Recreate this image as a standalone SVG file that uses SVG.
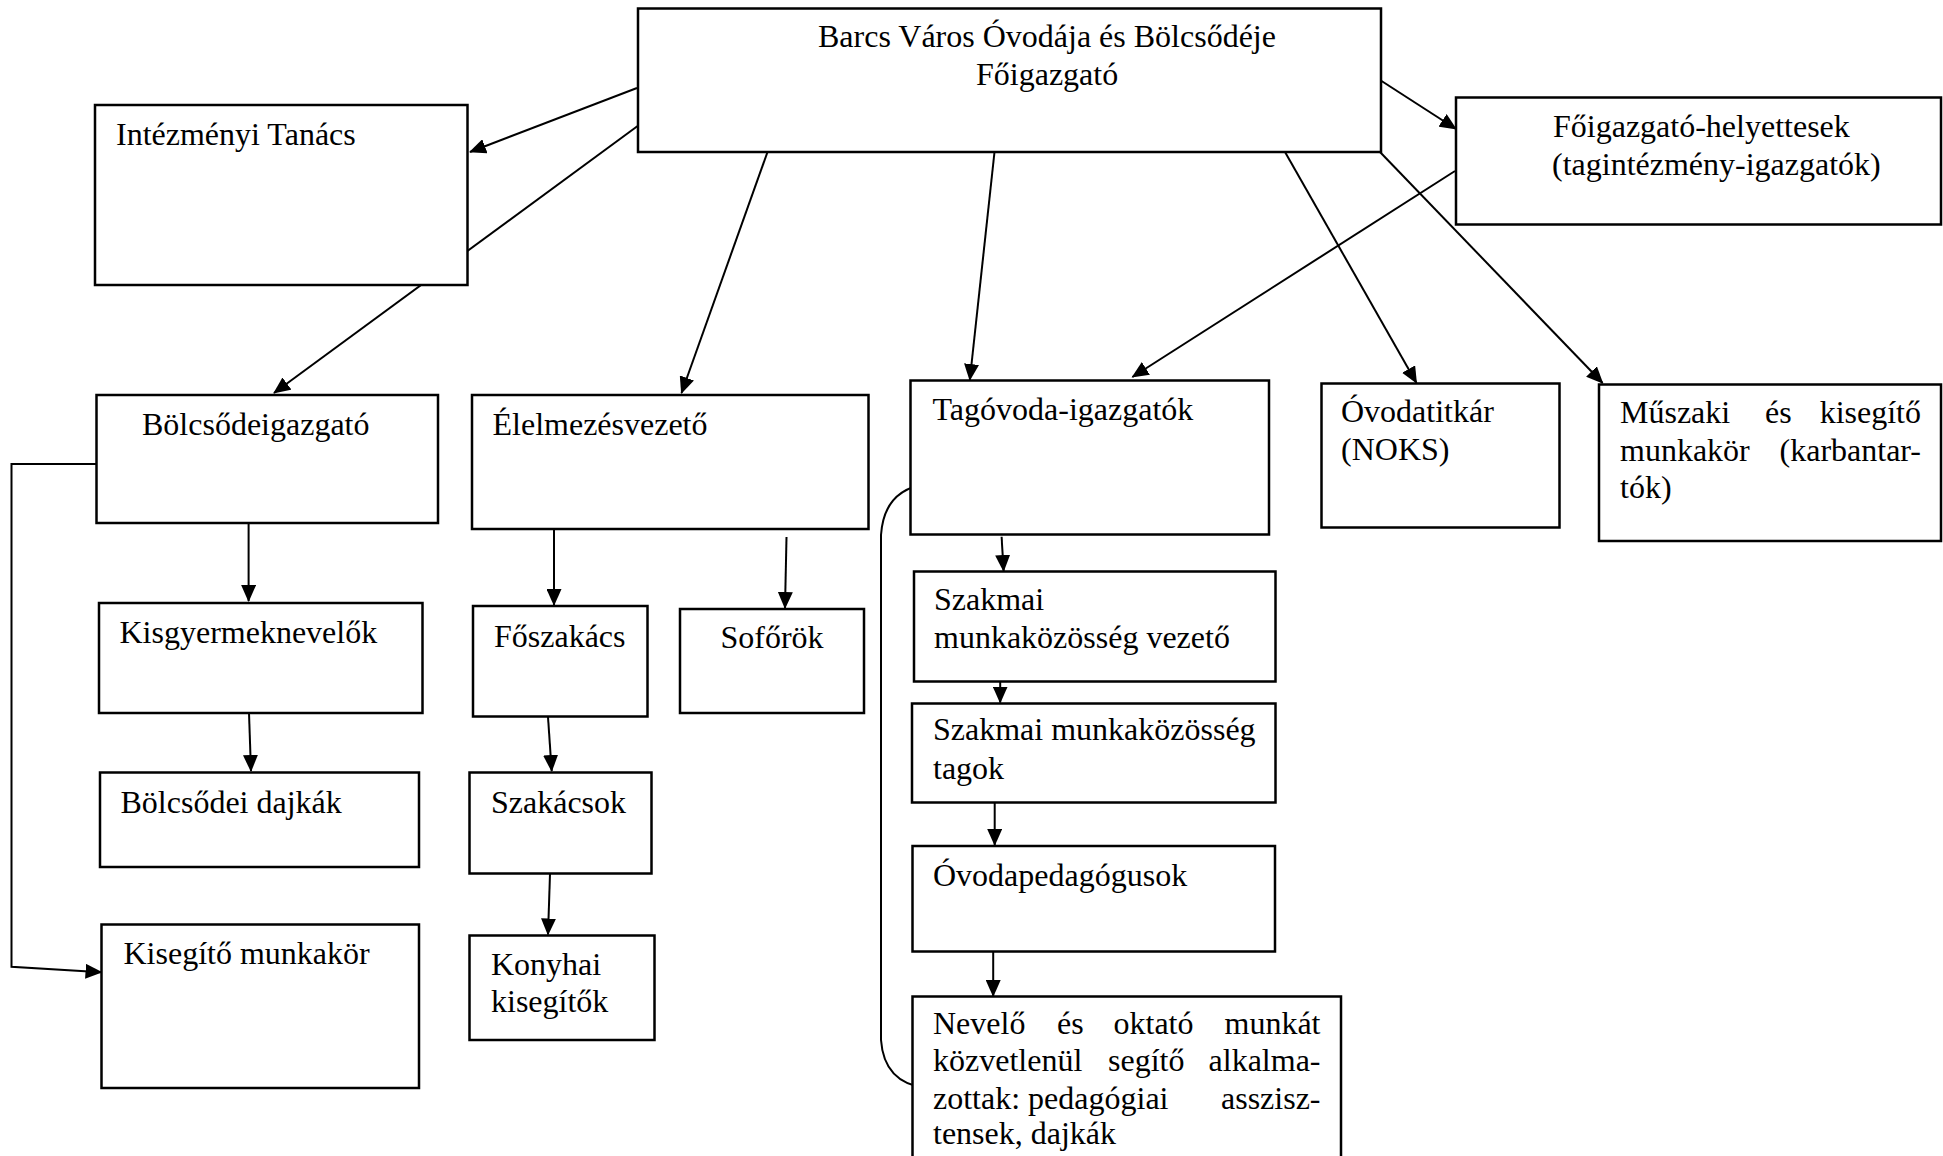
<svg xmlns="http://www.w3.org/2000/svg" width="1943" height="1156" viewBox="0 0 1943 1156">
<defs>
<style>
.box{fill:#fff;stroke:#000;stroke-width:2.5}
.t{font-family:"Liberation Serif","Times New Roman",serif;font-size:32px;fill:#000}
.e{text-anchor:end}
.c{fill:none;stroke:#000;stroke-width:2}
.a{marker-end:url(#arr)}
</style>
<marker id="arr" markerUnits="userSpaceOnUse" markerWidth="18" markerHeight="15" refX="16" refY="7.5" orient="auto">
<path d="M0,0 L17,7.5 L0,15 z" fill="#000"/>
</marker>
</defs>
<rect width="1943" height="1156" fill="#fff"/>
<g id="connectors">
<line class="c a" x1="637" y1="88" x2="470" y2="152"/>
<line class="c a" x1="639" y1="125" x2="274" y2="393"/>
<line class="c a" x1="767.5" y1="152" x2="681.5" y2="393"/>
<line class="c a" x1="994.5" y1="152" x2="969.8" y2="380"/>
<line class="c a" x1="1380" y1="80" x2="1456" y2="129"/>
<line class="c a" x1="1455" y1="171" x2="1132.4" y2="377"/>
<line class="c a" x1="1285" y1="152" x2="1416.5" y2="383"/>
<line class="c a" x1="1380" y1="152" x2="1602.6" y2="383"/>
<line class="c a" x1="248.6" y1="523" x2="248.6" y2="601"/>
<line class="c a" x1="249" y1="713" x2="251" y2="771"/>
<line class="c a" x1="554" y1="529" x2="554" y2="605"/>
<line class="c a" x1="786.5" y1="537" x2="785" y2="608"/>
<line class="c a" x1="548" y1="717" x2="551.7" y2="771"/>
<line class="c a" x1="550" y1="874" x2="548" y2="934.5"/>
<line class="c a" x1="1001.6" y1="536.7" x2="1003.6" y2="571"/>
<line class="c a" x1="1000.2" y1="656.7" x2="1000.2" y2="702.5"/>
<line class="c a" x1="994.7" y1="802.7" x2="994.7" y2="845"/>
<line class="c a" x1="993.2" y1="951.7" x2="993.2" y2="996"/>
<polyline class="c a" points="96,464 11.5,464 11.5,966.7 101.5,972.3"/>
<path class="c" d="M926,484 Q884,490 881,535 L881,1040 Q884,1083 926,1088"/>
</g>
<g id="n-main">
<rect class="box" x="638" y="8.5" width="743" height="143.5"/>
<text class="t" x="818" y="47">Barcs Város Óvodája és Bölcsődéje</text>
<text class="t" x="976" y="85">Főigazgató</text>
</g>
<g id="n-intezmenyi">
<rect class="box" x="95" y="105" width="372.5" height="180"/>
<text class="t" x="116" y="145">Intézményi Tanács</text>
</g>
<g id="n-helyettesek">
<rect class="box" x="1456" y="97.5" width="485" height="127"/>
<text class="t" x="1553" y="137">Főigazgató-helyettesek</text>
<text class="t" x="1552" y="175">(tagintézmény-igazgatók)</text>
</g>
<g id="n-bolcsodeigazgato">
<rect class="box" x="96.5" y="395" width="341.5" height="128"/>
<text class="t" x="142" y="435">Bölcsődeigazgató</text>
</g>
<g id="n-elelmezes">
<rect class="box" x="472" y="395" width="396.5" height="134"/>
<text class="t" x="492.5" y="435">Élelmezésvezető</text>
</g>
<g id="n-tagovoda">
<rect class="box" x="910.5" y="380.5" width="358.5" height="154"/>
<text class="t" x="932.5" y="420">Tagóvoda-igazgatók</text>
</g>
<g id="n-ovodatitkar">
<rect class="box" x="1321.5" y="383.5" width="238" height="144"/>
<text class="t" x="1341" y="422">Óvodatitkár</text>
<text class="t" x="1341" y="460">(NOKS)</text>
</g>
<g id="n-muszaki">
<rect class="box" x="1599" y="384.5" width="342" height="156.5"/>
<text class="t" x="1620" y="423">Műszaki</text>
<text class="t" x="1765" y="423">és</text>
<text class="t e" x="1921" y="423">kisegítő</text>
<text class="t" x="1620" y="461">munkakör</text>
<text class="t e" x="1921" y="461">(karbantar-</text>
<text class="t" x="1620" y="498">tók)</text>
</g>
<g id="n-kisgyermek">
<rect class="box" x="99" y="603" width="323.5" height="110"/>
<text class="t" x="119.5" y="643">Kisgyermeknevelők</text>
</g>
<g id="n-foszakacs">
<rect class="box" x="473" y="606" width="174.5" height="110.5"/>
<text class="t" x="494" y="647">Főszakács</text>
</g>
<g id="n-soforok">
<rect class="box" x="680" y="609" width="184" height="104"/>
<text class="t" x="720.5" y="648">Sofőrök</text>
</g>
<g id="n-szakmai-vezeto">
<rect class="box" x="914" y="571.5" width="361.5" height="110"/>
<text class="t" x="934" y="610">Szakmai</text>
<text class="t" x="934" y="648">munkaközösség vezető</text>
</g>
<g id="n-bolcsodei-dajkak">
<rect class="box" x="100" y="772.5" width="319" height="94.5"/>
<text class="t" x="120.5" y="813">Bölcsődei dajkák</text>
</g>
<g id="n-szakacsok">
<rect class="box" x="469.5" y="772.5" width="182" height="101"/>
<text class="t" x="491" y="813">Szakácsok</text>
</g>
<g id="n-szakmai-tagok">
<rect class="box" x="912" y="703.5" width="363.5" height="99"/>
<text class="t" x="933" y="740">Szakmai munkaközösség</text>
<text class="t" x="933" y="779">tagok</text>
</g>
<g id="n-ovodapedagogusok">
<rect class="box" x="912.5" y="846" width="362.5" height="105.5"/>
<text class="t" x="933" y="886">Óvodapedagógusok</text>
</g>
<g id="n-kisegito">
<rect class="box" x="101.5" y="924.5" width="317.5" height="163.5"/>
<text class="t" x="123.5" y="964">Kisegítő munkakör</text>
</g>
<g id="n-konyhai">
<rect class="box" x="469.5" y="935.5" width="185" height="104.5"/>
<text class="t" x="491" y="975">Konyhai</text>
<text class="t" x="491" y="1012">kisegítők</text>
</g>
<g id="n-nevelo">
<rect class="box" x="912.5" y="996.5" width="428.5" height="180"/>
<text class="t" x="933" y="1034">Nevelő</text>
<text class="t" x="1057" y="1034">és</text>
<text class="t" x="1113.5" y="1034">oktató</text>
<text class="t e" x="1320.5" y="1034">munkát</text>
<text class="t" x="933" y="1071">közvetlenül</text>
<text class="t" x="1108" y="1071">segítő</text>
<text class="t e" x="1320.5" y="1071">alkalma-</text>
<text class="t" x="933" y="1109">zottak: pedagógiai</text>
<text class="t e" x="1320.5" y="1109">asszisz-</text>
<text class="t" x="933" y="1144">tensek, dajkák</text>
</g>
</svg>
